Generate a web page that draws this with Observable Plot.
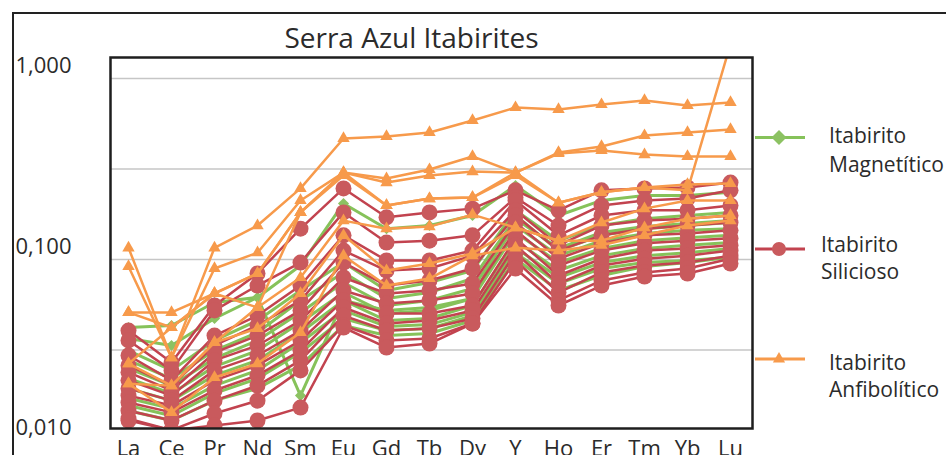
<!DOCTYPE html>
<html>
<head>
<meta charset="utf-8">
<script src="https://cdn.jsdelivr.net/npm/d3@7"></script>
<script src="https://cdn.jsdelivr.net/npm/@observablehq/plot@0.6"></script>
<style>
  body { margin: 0; background: #fff; }
  #wrap { position: relative; width: 946px; height: 455px; overflow: hidden;
          font-family: "Open Sans", Lato, sans-serif; color: #2b2b2b; }
  #outer { position: absolute; left: 12px; top: 12px; width: 1200px; height: 1200px;
           border-left: 2.5px solid #222; border-top: 2.5px solid #222; }
  #chart { position: absolute; left: 0; top: 0; }
  #legend { position: absolute; left: 0; top: 0; }
  .lt { position: absolute; font-size: 21px; white-space: nowrap; color: #2b2b2b; }
</style>
</head>
<body>
<div id="wrap">
  <div id="outer"></div>
  <div id="chart"></div>
  <svg id="legend" width="946" height="455"></svg>
</div>
<script>
const categories = ["La","Ce","Pr","Nd","Sm","Eu","Gd","Tb","Dy","Y","Ho","Er","Tm","Yb","Lu"];
const yTicks = [1, 0.1, 0.01];
const yTickLabels = ["1,000", "0,100", "0,010"];
const gridValues = [1, 0.316, 0.1, 0.0316];
const title = "Serra Azul Itabirites";

// Itabirito Magnetítico
const magnetitico = [
  [0.0421, 0.0432, 0.0579, 0.0617, 0.0927, 0.204, 0.148, 0.154, 0.175, 0.256, 0.175, 0.212, 0.226, 0.226, 0.235],
  [0.0366, 0.0335, 0.0472, 0.0617, 0.0177, 0.0594, 0.0523, 0.0543, 0.0609, 0.175, 0.112, 0.136, 0.148, 0.154, 0.160],
  [0.0314, 0.0244, 0.0357, 0.0460, 0.0674, 0.0962, 0.0674, 0.0746, 0.0869, 0.187, 0.127, 0.154, 0.168, 0.175, 0.182],
  [0.0277, 0.0220, 0.0314, 0.0395, 0.0594, 0.0848, 0.0609, 0.0657, 0.0785, 0.168, 0.115, 0.141, 0.152, 0.158, 0.164],
  [0.0250, 0.0201, 0.0284, 0.0357, 0.0510, 0.0746, 0.0557, 0.0594, 0.0692, 0.154, 0.105, 0.127, 0.139, 0.145, 0.148],
  [0.0220, 0.0182, 0.0256, 0.0314, 0.0449, 0.0657, 0.0503, 0.0523, 0.0609, 0.141, 0.0962, 0.115, 0.127, 0.132, 0.136],
  [0.0194, 0.0166, 0.0229, 0.0277, 0.0395, 0.0594, 0.0460, 0.0472, 0.0557, 0.127, 0.0869, 0.105, 0.115, 0.120, 0.124],
  [0.0171, 0.0150, 0.0201, 0.0244, 0.0348, 0.0523, 0.0426, 0.0437, 0.0510, 0.116, 0.0795, 0.0962, 0.105, 0.109, 0.115],
  [0.0156, 0.0137, 0.0182, 0.0220, 0.0306, 0.0472, 0.0405, 0.0416, 0.0490, 0.109, 0.0737, 0.0892, 0.0962, 0.0987, 0.103],
  [0.0146, 0.0129, 0.0166, 0.0194, 0.0260, 0.0432, 0.0380, 0.0390, 0.0460, 0.101, 0.0674, 0.0816, 0.0915, 0.0962, 0.103]
];

// Itabirito Silicioso
const silicioso = [
  [0.0405, 0.0270, 0.0557, 0.0837, 0.148, 0.247, 0.171, 0.182, 0.191, 0.241, 0.187, 0.241, 0.247, 0.250, 0.266],
  [0.0357, 0.0244, 0.0523, 0.0718, 0.0962, 0.182, 0.124, 0.127, 0.136, 0.220, 0.154, 0.199, 0.212, 0.217, 0.241],
  [0.0295, 0.0215, 0.0380, 0.0490, 0.0718, 0.136, 0.0987, 0.0987, 0.112, 0.212, 0.136, 0.175, 0.187, 0.187, 0.199],
  [0.0260, 0.0201, 0.0335, 0.0432, 0.0594, 0.112, 0.0869, 0.0892, 0.105, 0.187, 0.120, 0.154, 0.164, 0.168, 0.175],
  [0.0238, 0.0189, 0.0306, 0.0380, 0.0523, 0.0962, 0.0718, 0.0766, 0.0892, 0.175, 0.112, 0.136, 0.148, 0.154, 0.160],
  [0.0215, 0.0177, 0.0277, 0.0335, 0.0460, 0.0795, 0.0649, 0.0674, 0.0737, 0.160, 0.101, 0.123, 0.136, 0.139, 0.145],
  [0.0194, 0.0166, 0.0244, 0.0295, 0.0405, 0.0674, 0.0571, 0.0594, 0.0649, 0.145, 0.0927, 0.112, 0.123, 0.127, 0.131],
  [0.0177, 0.0156, 0.0215, 0.0260, 0.0357, 0.0594, 0.0503, 0.0503, 0.0557, 0.131, 0.0816, 0.101, 0.112, 0.115, 0.120],
  [0.0162, 0.0143, 0.0189, 0.0229, 0.0314, 0.0543, 0.0443, 0.0460, 0.0523, 0.120, 0.0737, 0.0927, 0.101, 0.105, 0.112],
  [0.0146, 0.0129, 0.0166, 0.0201, 0.0277, 0.0490, 0.0405, 0.0416, 0.0472, 0.109, 0.0657, 0.0848, 0.0927, 0.0962, 0.105],
  [0.0132, 0.0114, 0.0141, 0.0166, 0.0244, 0.0432, 0.0357, 0.0366, 0.0443, 0.0987, 0.0594, 0.0766, 0.0848, 0.0892, 0.101],
  [0.0129, 0.0114, 0.0121, 0.0129, 0.0152, 0.0421, 0.0326, 0.0343, 0.0443, 0.0892, 0.0557, 0.0718, 0.0805, 0.0837, 0.0950]
];

// Itabirito Anfibolítico
const anfibolitico = [
  [0.116, 0.0287, 0.116, 0.154, 0.247, 0.466, 0.478, 0.503, 0.586, 0.691, 0.674, 0.718, 0.756, 0.709, 0.737],
  [0.0915, 0.0287, 0.0892, 0.109, 0.212, 0.302, 0.280, 0.314, 0.371, 0.302, 0.390, 0.421, 0.484, 0.503, 0.523],
  [0.0510, 0.0510, 0.0649, 0.0837, 0.182, 0.302, 0.266, 0.291, 0.306, 0.302, 0.385, 0.400, 0.380, 0.371, 0.371],
  [0.0510, 0.0421, 0.0649, 0.0837, 0.182, 0.302, 0.199, 0.217, 0.220, 0.302, 0.206, 0.235, 0.250, 0.260, 0.263],
  [0.0266, 0.0421, 0.0649, 0.0543, 0.182, 0.291, 0.199, 0.217, 0.220, 0.291, 0.206, 0.235, 0.250, 0.241, 1.55],
  [0.0266, 0.0201, 0.0348, 0.0543, 0.0795, 0.164, 0.148, 0.152, 0.177, 0.150, 0.127, 0.160, 0.191, 0.212, 0.212],
  [0.0206, 0.0201, 0.0348, 0.0416, 0.0649, 0.136, 0.0869, 0.0950, 0.108, 0.150, 0.127, 0.127, 0.150, 0.168, 0.175],
  [0.0206, 0.0143, 0.0223, 0.0266, 0.0395, 0.105, 0.0718, 0.0785, 0.105, 0.116, 0.112, 0.120, 0.136, 0.154, 0.164]
];

const groups = [
  { name: "mag", label: ["Itabirito", "Magnetítico"], series: magnetitico },
  { name: "sil", label: ["Itabirito", "Silicioso"], series: silicioso },
  { name: "anf", label: ["Itabirito", "Anfibolítico"], series: anfibolitico }
];

const style = {
  mag: { line: "#86c25a", fill: "#8cc262", symbol: "diamond2", r: 5, sw: 3 },
  sil: { line: "#c2434f", fill: "#c95a5d", symbol: "circle", r: 8, sw: 2.5 },
  anf: { line: "#f79a4b", fill: "#f79a4b", symbol: "triangle", r: 4.6, sw: 2.5 }
};

const toRows = g => g.series.flatMap((vals, s) =>
  vals.map((value, i) => ({ id: g.name + s, ree: categories[i], value })));

const seriesMarks = groups.flatMap(g => {
  const rows = toRows(g);
  const st = style[g.name];
  return [
    Plot.line(rows, { x: "ree", y: "value", z: "id", stroke: st.line, strokeWidth: st.sw, clip: true }),
    Plot.dot(rows, { x: "ree", y: "value", symbol: () => st.symbol, r: st.r, fill: st.fill, stroke: "none", clip: true })
  ];
});

const chart = Plot.plot({
  width: 946,
  height: 455,
  marginTop: 57,
  marginBottom: 27,
  marginLeft: 110,
  marginRight: 194,
  style: { background: "transparent", fontFamily: "'Open Sans', Lato, sans-serif", color: "#2b2b2b", overflow: "visible" },
  x: { type: "point", domain: categories, range: [127, 731], padding: 0, label: null },
  y: { type: "log", domain: [0.01165, 1.306], axis: null, label: null },
  symbol: { type: "identity" },
  marks: [
    Plot.ruleY(gridValues, { stroke: "#c6c6c6", strokeWidth: 1.4 }),
    ...seriesMarks,
    Plot.frame({ stroke: "#1e1e1e", strokeWidth: 2.5 }),
    Plot.axisX({ tickSize: 0, tickPadding: 12, fontSize: 22, fill: "#2b2b2b", label: null }),
    Plot.text(yTicks, { y: d => d, text: (d, i) => yTickLabels[i], frameAnchor: "left", dx: -95, dy: -13,
                        textAnchor: "start", fontSize: 22, fill: "#2b2b2b" }),
    Plot.text([title], { text: d => d, frameAnchor: "top", dx: -20, dy: -29, fontSize: 28, fill: "#2b2b2b" })
  ]
});
document.getElementById("chart").appendChild(chart);

// Legend
const leg = d3.select("#legend");
const legendLayout = [
  { swY: 137.5, textX: 829, textTop: 121, lh: 29 },
  { swY: 249, textX: 821, textTop: 231, lh: 27 },
  { swY: 359, textX: 829, textTop: 349, lh: 27 }
];
const symSize = { mag: 143, sil: 154, anf: 64 };
const symType = { mag: d3.symbolDiamond2, sil: d3.symbolCircle, anf: d3.symbolTriangle };
groups.forEach((g, k) => {
  const L = legendLayout[k];
  const st = style[g.name];
  leg.append("line").attr("x1", 755).attr("x2", 805).attr("y1", L.swY).attr("y2", L.swY)
    .attr("stroke", st.line).attr("stroke-width", 3);
  leg.append("path").attr("d", d3.symbol(symType[g.name], symSize[g.name])())
    .attr("transform", `translate(779,${L.swY})`).attr("fill", st.fill);
  const div = document.createElement("div");
  div.className = "lt";
  div.style.left = L.textX + "px";
  div.style.top = L.textTop + "px";
  div.style.lineHeight = L.lh + "px";
  div.innerHTML = g.label.join("<br>");
  document.getElementById("wrap").appendChild(div);
});
</script>
</body>
</html>
